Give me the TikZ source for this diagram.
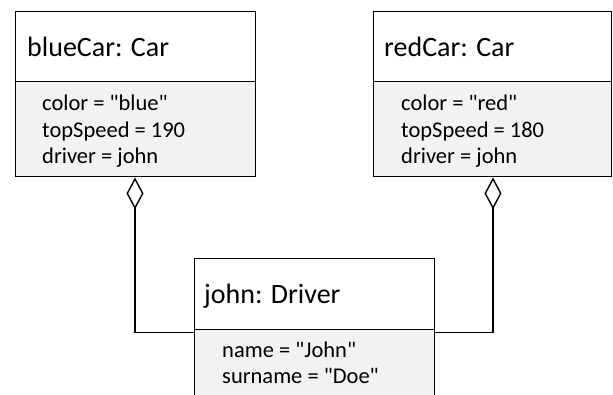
\documentclass[tikz,border=0pt]{standalone}
\usepackage{fontspec}
\setmainfont{Carlito}
\usetikzlibrary{arrows.meta}
\definecolor{attrgray}{RGB}{242,242,242}
\newcommand{\dq}{\XeTeXglyph\XeTeXcharglyph"22\relax}
\tikzset{
  umlline/.style={line width=1.4pt, draw=black},
  titlebox/.style={umlline, fill=white, rectangle, inner sep=0pt, minimum width=240pt, minimum height=70pt, anchor=north west},
  attrbox/.style={umlline, fill=attrgray, rectangle, inner sep=0pt, minimum width=240pt, anchor=north west},
  titletext/.style={anchor=base west, inner sep=0pt, font=\fontsize{28}{34}\selectfont},
  attrtext/.style={anchor=base west, inner sep=0pt, font=\fontsize{22.5}{27}\selectfont},
  agg/.style={umlline, {Diamond[open, length=32pt, width=17pt, line width=1.4pt]}-}
}
\begin{document}
\begin{tikzpicture}[x=1pt, y=-1pt]
\clip (0,0) rectangle (613,394);
\fill[white] (0,0) rectangle (613,394);
% blueCar
\node[attrbox, minimum height=95pt] (blueA) at (15,81) {};
\node[titlebox] (blueT) at (15,11) {};
\node[titletext] (blueN) at ([shift={(12,45)}]blueT.north west) {blueCar: Car};
\node[attrtext] (blue1) at ([shift={(27,29)}]blueA.north west) {color = \dq blue\dq};
\node[attrtext] (blue2) at ([shift={(27,56)}]blueA.north west) {topSpeed = 190};
\node[attrtext] (blue3) at ([shift={(27,82)}]blueA.north west) {driver = john};
% redCar
\node[attrbox, minimum height=95pt, minimum width=238pt] (redA) at (373,81) {};
\node[titlebox, minimum width=238pt] (redT) at (373,11) {};
\node[titletext] (redN) at ([shift={(11,45)}]redT.north west) {redCar: Car};
\node[attrtext] (red1) at ([shift={(28,29)}]redA.north west) {color = \dq red\dq};
\node[attrtext] (red2) at ([shift={(28,56)}]redA.north west) {topSpeed = 180};
\node[attrtext] (red3) at ([shift={(28,82)}]redA.north west) {driver = john};
% john
\node[attrbox, minimum height=100pt] (johnA) at (194,329) {};
\node[titlebox, minimum height=71pt] (johnT) at (194,258) {};
\node[titletext] (johnN) at ([shift={(10,45)}]johnT.north west) {john: Driver};
\node[attrtext] (john1) at ([shift={(28,28)}]johnA.north west) {name = \dq John\dq};
\node[attrtext] (john2) at ([shift={(28,54)}]johnA.north west) {surname = \dq Doe\dq};
% aggregations
\draw[agg] ([xshift=120pt]blueA.south west) |- ([yshift=-2pt]johnT.south west);
\draw[agg] ([xshift=120pt]redA.south west) |- ([yshift=-2pt]johnT.south east);
\end{tikzpicture}
\end{document}
